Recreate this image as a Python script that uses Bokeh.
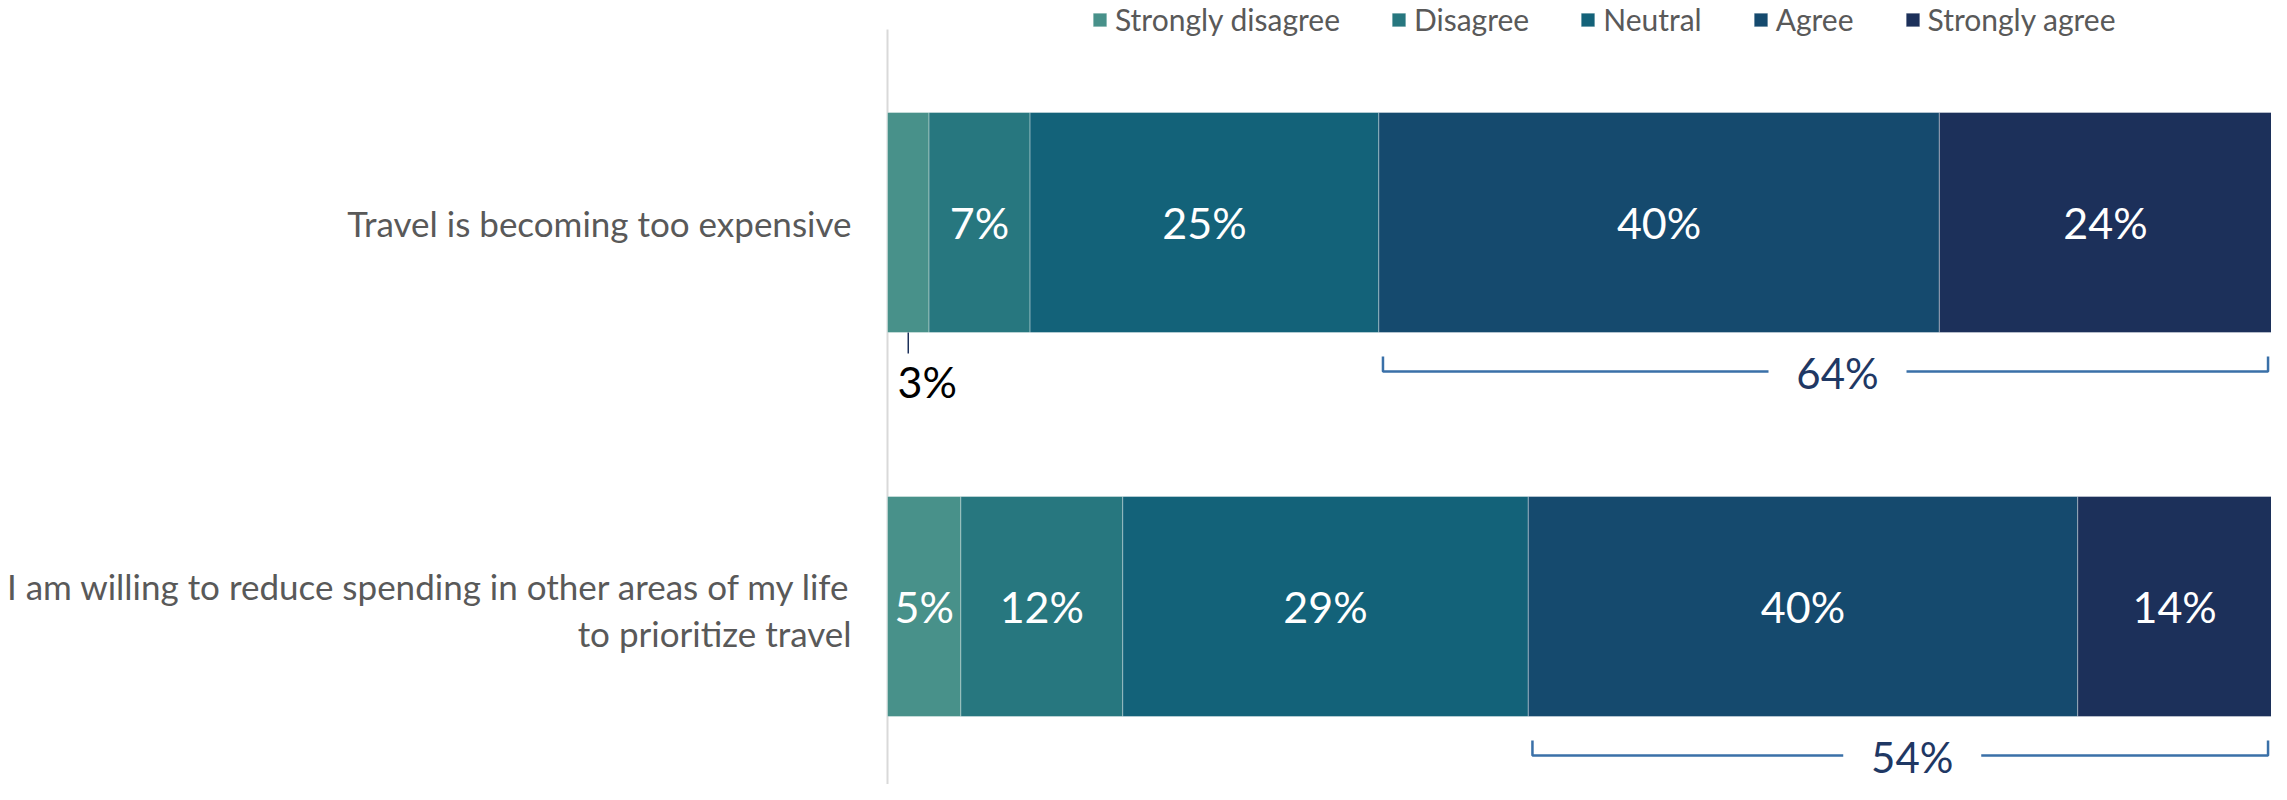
from bokeh.plotting import figure
from bokeh.models import Range1d, Legend, LegendItem, ColumnDataSource
from bokeh.core.properties import value
from bokeh.embed import file_html
from bokeh.resources import INLINE

# ---------------- data ----------------
statements = [
    "Travel is becoming too expensive",
    "I am willing to reduce spending in other areas of my life\nto prioritize travel",
]
levels = ["Strongly disagree", "Disagree", "Neutral", "Agree", "Strongly agree"]
strongly_disagree = [3.0, 5.3]
disagree = [7.3, 11.7]
neutral = [25.2, 29.3]
agree = [40.5, 39.7]
strongly_agree = [24.0, 14.0]
label_strongly_disagree = ["3%", "5%"]
label_disagree = ["7%", "12%"]
label_neutral = ["25%", "29%"]
label_agree = ["40%", "40%"]
label_strongly_agree = ["24%", "14%"]
net_agree_labels = ["64%", "54%"]
colors = ["#48918a", "#27777f", "#136279", "#154a6e", "#1c305a"]

series = [strongly_disagree, disagree, neutral, agree, strongly_agree]
series_labels = [label_strongly_disagree, label_disagree, label_neutral,
                 label_agree, label_strongly_agree]

# ---------------- layout ----------------
W, H = 2271, 784
X0 = 887                    # pixel position of 0 %
PX = (W - X0) / 100.0       # pixels per percentage point
ROW = 384                   # pixels between rows
ROW0 = 222                  # pixel centre of first row
BAR_H = 220 / ROW
FONT = value("Lato")

p = figure(width=W, height=H, output_backend="svg", toolbar_location=None,
           x_range=Range1d(-X0 / PX, (W - X0) / PX),
           y_range=Range1d((H - ROW0) / ROW, -ROW0 / ROW),
           x_axis_location=None, y_axis_location=None, min_border=0)
p.grid.visible = False
p.outline_line_color = None
p.background_fill_color = "white"

ys = list(range(len(statements)))

# vertical axis line
p.segment(x0=[0], x1=[0], y0=[-ROW0 / ROW + 29 / ROW], y1=[(H - ROW0) / ROW],
          line_color="#d9d9d9", line_width=2)

# stacked bars
renderers = []
left = [0.0] * len(ys)
inside_x, inside_y, inside_t = [], [], []
out_x, out_y, out_t = [], [], []
for vals, labs, col, lvl in zip(series, series_labels, colors, levels):
    right = [l + v for l, v in zip(left, vals)]
    src = ColumnDataSource(dict(y=ys, left=left, right=right))
    r = p.hbar(y="y", left="left", right="right", height=BAR_H, source=src,
               fill_color=col, line_color="white", line_alpha=0.35, line_width=1)
    renderers.append((lvl, r))
    for y, l, rr, v, t in zip(ys, left, right, vals, labs):
        if v >= 4:
            inside_x.append((l + rr) / 2); inside_y.append(y); inside_t.append(t)
        else:
            out_x.append((l + rr) / 2); out_y.append(y); out_t.append(t)
    left = right

p.text(x=inside_x, y=inside_y, text=inside_t, text_color="white",
       text_font=FONT, text_font_size="43px", text_align="center",
       text_baseline="middle")

# small segment labels below the bar with a leader line
bottoms = [y + BAR_H / 2 for y in out_y]
p.segment(x0=out_x, x1=out_x, y0=bottoms, y1=[b + 21 / ROW for b in bottoms],
          line_color="#1c305a", line_width=1.5)
p.text(x=out_x, y=[b + 49 / ROW for b in bottoms], text=out_t, text_color="black",
       text_font=FONT, text_font_size="43px", text_align="center",
       text_baseline="middle", x_offset=19)

# net-agree brackets
agree_start = [sd + d + n for sd, d, n in zip(strongly_disagree, disagree, neutral)]
totals = [a + b + c + d + e for a, b, c, d, e in zip(*series)]
xs_lines, ys_lines, tx, ty = [], [], [], []
for y, a0, tot, lab in zip(ys, agree_start, totals, net_agree_labels):
    b = y + BAR_H / 2
    x_l = a0 + 0.3
    x_r = tot - 0.25
    ytop = b + 24 / ROW
    yline = b + 39 / ROW
    xc = (x_l + x_r) / 2 + 12 / PX
    gap = 69 / PX
    xs_lines += [[x_l, x_l, xc - gap], [xc + gap, x_r, x_r]]
    ys_lines += [[ytop, yline, yline], [yline, yline, ytop]]
    tx.append(xc); ty.append(b + 40 / ROW)
p.multi_line(xs=xs_lines, ys=ys_lines, line_color="#3a70a8", line_width=2.5)
p.text(x=tx, y=ty, text=net_agree_labels, text_color="#1f3864",
       text_font=FONT, text_font_size="42px", text_align="center",
       text_baseline="middle")

# category labels
p.text(x=[-36 / PX] * len(ys), y=ys, text=statements, text_color="#595959",
       text_font=FONT, text_font_size="35px", text_align="right",
       text_baseline="middle", text_line_height=1.12, y_offset=[0, 3])

# legend
legend = Legend(items=[LegendItem(label=l, renderers=[r]) for l, r in renderers],
                orientation="horizontal", location=(1091, H - 37),
                label_text_font="Lato", label_text_font_size="30px",
                label_text_color="#595959", glyph_width=17, glyph_height=17,
                label_standoff=7, spacing=50, padding=0, margin=0,
                border_line_color=None, background_fill_alpha=0)
p.add_layout(legend)

open("out.html", "w").write(file_html(p, INLINE))
